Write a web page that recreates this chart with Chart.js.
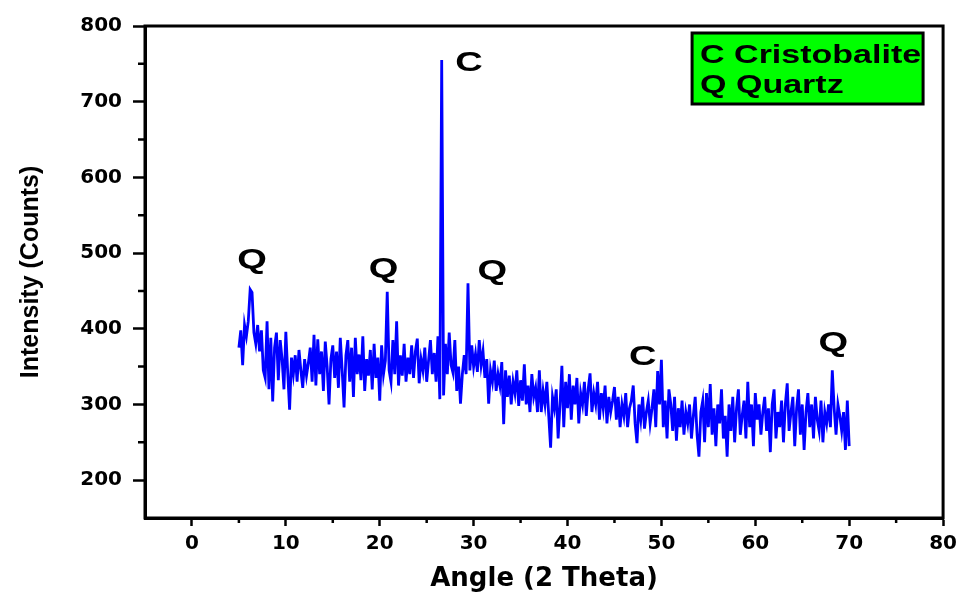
<!DOCTYPE html>
<html>
<head>
<meta charset="utf-8">
<script src="https://cdn.jsdelivr.net/npm/chart.js@4.4.1/dist/chart.umd.min.js"></script>
<style>
html, body { margin: 0; padding: 0; background: #fff; }
</style>
</head>
<body>
<canvas id="xrd" width="963" height="595"></canvas>
<script>
// XRD scan: 5 to 70 degrees, one reading every 0.2 degree
const angleStart = 5;
const angleStep = 0.2;
const counts = [
    375, 398, 352, 405, 390, 410, 452, 448, 395, 380,
    405, 370, 398, 345, 335, 410, 320, 388, 304, 375,
    395, 332, 385, 360, 320, 396, 342, 293, 362, 340,
    365, 330, 372, 345, 322, 360, 338, 355, 375, 330,
    392, 325, 386, 340, 370, 318, 383, 350, 300, 360,
    378, 335, 370, 322, 388, 345, 296, 365, 385, 330,
    375, 310, 388, 340, 366, 332, 390, 318, 360, 338,
    372, 320, 380, 335, 362, 305, 378, 340, 358, 449,
    345, 330, 385, 340, 410, 325, 365, 338, 380, 330,
    362, 340, 378, 335, 370, 387, 328, 360, 345, 375,
    330, 358, 385, 340, 368, 330, 390, 307, 755, 312,
    380, 340, 395, 352, 342, 385, 318, 350, 301, 340,
    365, 340, 460, 345, 378, 350, 367, 343, 385, 352,
    370, 335, 360, 301, 345, 330, 358, 318, 340, 325,
    356, 274, 345, 310, 338, 300, 330, 315, 345, 298,
    332, 305, 353, 300, 325, 290, 340, 310, 322, 290,
    345, 290, 318, 300, 330, 285, 243, 310, 295, 320,
    255, 300, 351, 270, 330, 295, 340, 280, 325, 300,
    335, 275, 315, 300, 330, 285, 320, 341, 290, 315,
    300, 330, 280, 315, 295, 325, 275, 310, 290, 305,
    323, 280, 310, 270, 300, 285, 315, 270, 295, 305,
    325, 275, 249, 300, 280, 310, 268, 290, 305, 275,
    295, 320, 270, 344, 300, 359, 270, 305, 255, 320,
    300, 265, 310, 252, 295, 270, 305, 260, 290, 275,
    300, 255, 285, 310, 260, 231, 290, 305, 250, 315,
    270, 327, 260, 295, 245, 300, 275, 320, 255, 285,
    231, 300, 265, 310, 250, 295, 320, 260, 285, 305,
    255, 330, 270, 300, 245, 315, 280, 300, 260, 290,
    310, 265, 295, 237, 300, 320, 255, 290, 270, 305,
    250, 300, 328, 265, 290, 310, 245, 295, 320, 260,
    300, 240, 290, 315, 270, 300, 255, 310, 280, 265,
    305, 250, 290, 275, 300, 270, 345, 295, 260, 300,
    285, 265, 290, 240, 305, 245
];

// phase marks above the peaks
const peakLabels = ['Q', 'Q', 'C', 'Q', 'C', 'Q'];
const peakLabelAngles = [6.4, 20.4, 29.5, 32.0, 48.0, 68.3];
const peakLabelCounts = [491, 479, 751, 476, 362, 381];

const legendLines = ['C Cristobalite', 'Q Quartz'];

const xMinorTicks = [5, 15, 25, 35, 45, 55, 65, 75];
const yMinorTicks = [250, 350, 450, 550, 650, 750];

const points = counts.map((c, i) => ({ x: +(angleStart + i * angleStep).toFixed(1), y: c }));

const stretch = 1.36; // the original figure is wider than tall
function stretchedText(ctx, text, x, y, align) {
    ctx.save();
    ctx.translate(x, y);
    ctx.scale(stretch, 1);
    ctx.textAlign = align;
    ctx.fillText(text, 0, 0);
    ctx.restore();
}

const decorations = {
    id: 'decorations',
    afterDraw(chart) {
        const { ctx, chartArea: a, scales: { x, y } } = chart;
        ctx.save();
        ctx.strokeStyle = '#000';
        ctx.lineWidth = 3;
        ctx.strokeRect(a.left, a.top, a.right - a.left, a.bottom - a.top);

        // minor ticks
        ctx.lineWidth = 2.5;
        ctx.beginPath();
        xMinorTicks.forEach(v => {
            const px = x.getPixelForValue(v);
            ctx.moveTo(px, a.bottom);
            ctx.lineTo(px, a.bottom + 5);
        });
        yMinorTicks.forEach(v => {
            const py = y.getPixelForValue(v);
            ctx.moveTo(a.left, py);
            ctx.lineTo(a.left - 7, py);
        });
        ctx.stroke();

        // peak letters
        ctx.fillStyle = '#000';
        ctx.font = 'bold 28px "Liberation Sans", Arial, sans-serif';
        ctx.textBaseline = 'middle';
        peakLabels.forEach((t, i) => {
            stretchedText(ctx, t, x.getPixelForValue(peakLabelAngles[i]), y.getPixelForValue(peakLabelCounts[i]), 'center');
        });

        // legend box
        const bx = a.right - 251, by = a.top + 7, bw = 231, bh = 71;
        ctx.fillStyle = '#00ff00';
        ctx.fillRect(bx, by, bw, bh);
        ctx.lineWidth = 3;
        ctx.strokeRect(bx, by, bw, bh);
        ctx.fillStyle = '#000';
        ctx.font = 'bold 25px "Liberation Sans", Arial, sans-serif';
        ctx.textBaseline = 'alphabetic';
        legendLines.forEach((t, i) => stretchedText(ctx, t, bx + 8, by + 30 + i * 30, 'left'));
        ctx.restore();
    }
};

const tickFont = { family: 'DejaVu Sans', weight: 'bold', size: 20 };

new Chart(document.getElementById('xrd'), {
    type: 'scatter',
    plugins: [decorations],
    data: {
        datasets: [{
            data: points,
            showLine: true,
            borderColor: '#0000ff',
            borderWidth: 2.8,
            pointRadius: 0,
            tension: 0
        }]
    },
    options: {
        responsive: false,
        animation: false,
        devicePixelRatio: 1,
        layout: { padding: { top: 26, right: 15, left: 0, bottom: 0 } },
        plugins: { legend: { display: false }, tooltip: { enabled: false } },
        scales: {
            x: {
                type: 'linear',
                min: -5,
                max: 80,
                afterFit(s) { s.height = 77; },
                ticks: {
                    stepSize: 10,
                    autoSkip: false,
                    maxRotation: 0,
                    color: '#000',
                    font: tickFont,
                    padding: 6,
                    callback: v => (v % 10 === 0 ? v : '')
                },
                grid: {
                    drawOnChartArea: false,
                    tickLength: 8,
                    tickWidth: 2.5,
                    tickColor: c => (c.tick && c.tick.value % 10 === 0 ? '#000' : 'rgba(0,0,0,0)')
                },
                border: { width: 3, color: '#000' },
                title: {
                    display: true,
                    text: 'Angle (2 Theta)',
                    color: '#000',
                    font: { family: 'DejaVu Sans', weight: 'bold', size: 26, lineHeight: 1 },
                    padding: { top: 0, bottom: 3 }
                }
            },
            y: {
                min: 150,
                max: 800,
                afterFit(s) { s.width = 145; },
                ticks: {
                    stepSize: 100,
                    autoSkip: false,
                    color: '#000',
                    font: tickFont,
                    padding: 11,
                    callback: v => (v % 100 === 0 ? v : '')
                },
                grid: {
                    drawOnChartArea: false,
                    tickLength: 12,
                    tickWidth: 2.5,
                    tickColor: c => (c.tick && c.tick.value % 100 === 0 ? '#000' : 'rgba(0,0,0,0)')
                },
                border: { width: 3, color: '#000' },
                title: {
                    display: true,
                    text: 'Intensity (Counts)',
                    color: '#000',
                    font: { family: 'Liberation Sans', weight: 'bold', size: 25, lineHeight: 1 },
                    padding: { top: 19, bottom: 0 }
                }
            }
        }
    }
});
</script>
</body>
</html>
